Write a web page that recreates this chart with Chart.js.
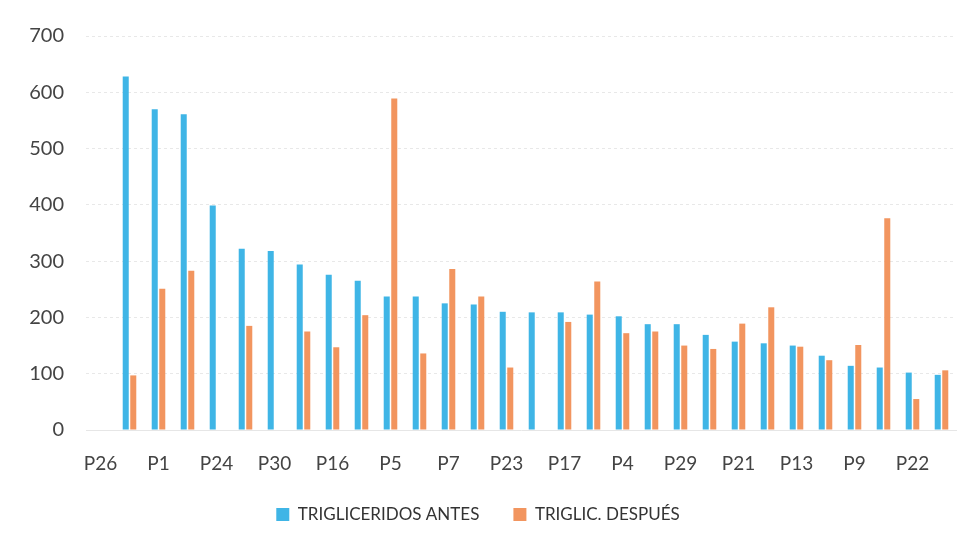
<!DOCTYPE html>
<html>
<head>
<meta charset="utf-8">
<script src="https://cdn.jsdelivr.net/npm/chart.js@4"></script>
<style>
  html, body { margin: 0; padding: 0; background: #fff; }
  #wrap { width: 977px; height: 549px; position: relative; }
</style>
</head>
<body>
<div id="wrap"><canvas id="trigChart"></canvas></div>
<script>
// categories (only every other label is legible in the source)
const patients = ['P26', '', 'P1', '', 'P24', '', 'P30', '', 'P16', '', 'P5', '', 'P7', '', 'P23',
  '', 'P17', '', 'P4', '', 'P29', '', 'P21', '', 'P13', '', 'P9', '', 'P22', ''];

const trigAntes = [null, 628, 570, 561, 399, 322, 318, 294, 276, 265, 237, 237, 225, 223, 210,
  209, 209, 205, 202, 188, 188, 169, 157, 154, 150, 132, 114, 111, 102, 98];

const trigDespues = [null, 97, 251, 283, null, 185, null, 175, 147, 204, 589, 136, 286, 237, 111,
  null, 192, 264, 172, 175, 150, 144, 189, 218, 148, 124, 151, 376, 55, 106];

const yTicks = [0, 100, 200, 300, 400, 500, 600, 700];

const data = {
  labels: patients,
  datasets: [
    {
      label: 'TRIGLICERIDOS ANTES',
      data: trigAntes,
      backgroundColor: '#3fb5e6',
      barPercentage: 0.8,
      categoryPercentage: 0.52,
    },
    {
      label: 'TRIGLIC. DESPUÉS',
      data: trigDespues,
      backgroundColor: '#f2955f',
      barPercentage: 0.8,
      categoryPercentage: 0.52,
    },
  ],
};

const options = {
  responsive: false,
  animation: false,
  layout: {
    padding: { top: 36, right: 21, left: 0, bottom: 16 },
  },
  plugins: {
    legend: {
      position: 'bottom',
      labels: {
        boxWidth: 13,
        boxHeight: 13,
        padding: 34,
        color: '#333',
        font: { family: 'Lato', size: 17 },
      },
    },
    tooltip: { enabled: false },
  },
  scales: {
    x: {
      afterFit: (scale) => { scale.height = 42; },
      grid: { display: false },
      border: { display: true, color: '#e6e6e6' },
      ticks: {
        autoSkip: false,
        maxRotation: 0,
        color: '#444',
        padding: 14,
        font: { family: 'Lato', size: 19 },
      },
    },
    y: {
      min: 0,
      max: 700,
      afterFit: (scale) => { scale.width = 86; },
      afterBuildTicks: (scale) => { scale.ticks = yTicks.map((v) => ({ value: v })); },
      grid: { color: '#e8e8e8', drawTicks: false },
      border: { display: false, dash: [3, 3] },
      ticks: {
        color: '#444',
        padding: 22,
        font: { family: 'Lato', size: 20 },
      },
    },
  },
};

const canvas = document.getElementById('trigChart');
canvas.width = 977;
canvas.height = 549;
new Chart(canvas.getContext('2d'), {
  type: 'bar',
  data: data,
  options: options,
});
</script>
</body>
</html>
